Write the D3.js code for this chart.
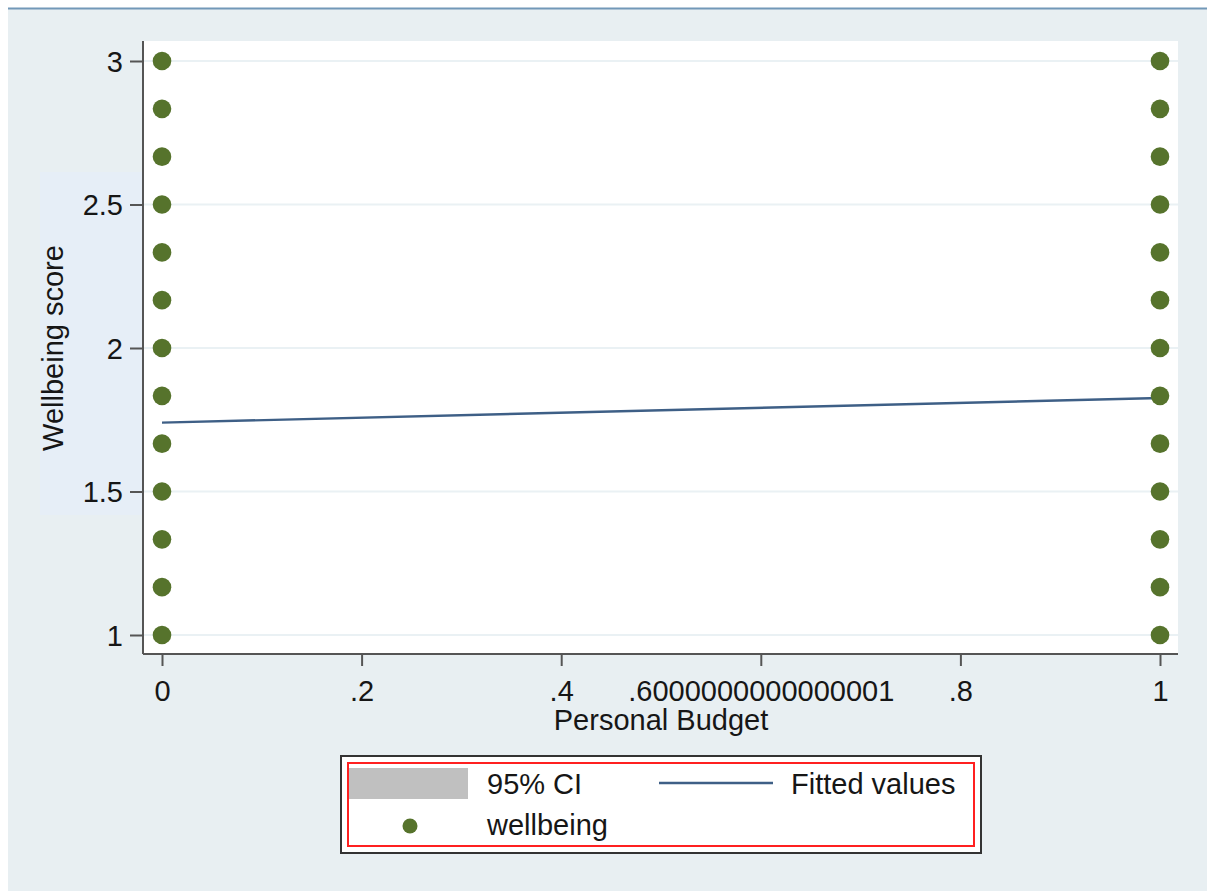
<!DOCTYPE html>
<html><head><meta charset="utf-8">
<script src="https://cdn.jsdelivr.net/npm/d3@7"></script>
<style>body{margin:0;background:#fff;}svg{display:block;font-family:Arial,"Liberation Sans",sans-serif;}</style>
</head><body><svg id="c" width="1207" height="893"></svg>
<script>
const groupX = [0, 1];
const wellbeingLevels = [1, 1.1667, 1.3333, 1.5, 1.6667, 1.8333, 2, 2.1667, 2.3333, 2.5, 2.6667, 2.8333, 3];
const fittedX = [0, 1];
const fittedY = [1.74, 1.826];
const yTicks = [1, 1.5, 2, 2.5, 3];
const xTicks = [0, 0.2, 0.4, 0.6000000000000001, 0.8, 1];
const xTickLabels = ["0", ".2", ".4", ".6000000000000001", ".8", "1"];
const yTickLabels = ["1", "1.5", "2", "2.5", "3"];

const FONT = "Arial, 'Liberation Sans', sans-serif";
const TXT = "#161616";
const svg = d3.select("#c");
svg.append("rect").attr("x", 8).attr("y", 8).attr("width", 1199).attr("height", 883).attr("fill", "#e8eff2");
svg.append("line").attr("x1", 8).attr("x2", 1207).attr("y1", 8.5).attr("y2", 8.5).attr("stroke", "#7298b8").attr("stroke-width", 2);
// faint backdrop behind y title
svg.append("rect").attr("x", 40).attr("y", 172).attr("width", 102).attr("height", 343).attr("fill", "#e6eef7");

const x = d3.scaleLinear().domain([0, 1]).range([162, 1160]);
const y = d3.scaleLinear().domain([1, 3]).range([635, 61]);

// plot region
svg.append("rect").attr("x", 143).attr("y", 41).attr("width", 1035).attr("height", 613).attr("fill", "#fff");

// gridlines
svg.append("g").selectAll("line").data(yTicks).join("line")
  .attr("x1", 143).attr("x2", 1178).attr("y1", d => y(d)).attr("y2", d => y(d))
  .attr("stroke", "#eaf1f4").attr("stroke-width", 2);

// fitted line
svg.append("path").datum(fittedX.map((d, i) => [d, fittedY[i]]))
  .attr("d", d3.line().x(d => x(d[0])).y(d => y(d[1])))
  .attr("fill", "none").attr("stroke", "#3e5f86").attr("stroke-width", 2.4);

// points
const pts = [];
groupX.forEach(g => wellbeingLevels.forEach(v => pts.push([g, v])));
svg.append("g").selectAll("circle").data(pts).join("circle")
  .attr("cx", d => x(d[0])).attr("cy", d => y(d[1])).attr("r", 9.3).attr("fill", "#56732c");

// axes
const yAxis = d3.axisLeft(y).tickValues(yTicks).tickSize(13).tickPadding(7).tickFormat((d, i) => yTickLabels[i]);
const gy = svg.append("g").attr("transform", "translate(143,0)").call(yAxis);
gy.attr("font-family", FONT).attr("font-size", 29);
gy.select(".domain").attr("d", "M0,41V654").attr("stroke", "#555").attr("stroke-width", 2);
gy.selectAll(".tick line").attr("stroke", "#555").attr("stroke-width", 2);
gy.selectAll(".tick text").attr("fill", TXT).attr("dy", "0.35em");

const xAxis = d3.axisBottom(x).tickValues(xTicks).tickSize(12).tickPadding(14).tickFormat((d, i) => xTickLabels[i]);
const gx = svg.append("g").attr("transform", "translate(0,654)").call(xAxis);
gx.attr("font-family", FONT).attr("font-size", 29);
gx.select(".domain").attr("d", "M143,0H1178").attr("stroke", "#555").attr("stroke-width", 2);
gx.selectAll(".tick line").attr("stroke", "#555").attr("stroke-width", 2);
gx.selectAll(".tick text").attr("fill", TXT).attr("dy", "0.71em");

// axis titles
svg.append("text").attr("x", 661).attr("y", 730).attr("text-anchor", "middle").attr("font-size", 29).attr("fill", TXT).text("Personal Budget");
svg.append("text").attr("transform", "translate(63,348) rotate(-90)").attr("text-anchor", "middle").attr("font-size", 29).attr("fill", TXT).text("Wellbeing score");

// legend
svg.append("rect").attr("x", 341).attr("y", 756).attr("width", 640).attr("height", 97).attr("fill", "#fff").attr("stroke", "#333").attr("stroke-width", 2);
svg.append("rect").attr("x", 348).attr("y", 763).attr("width", 626).attr("height", 83).attr("fill", "#fff").attr("stroke", "#ff2020").attr("stroke-width", 2);
svg.append("rect").attr("x", 349).attr("y", 768).attr("width", 119).attr("height", 31).attr("fill", "#c0c0c0");
svg.append("line").attr("x1", 659).attr("x2", 773).attr("y1", 783).attr("y2", 783).attr("stroke", "#3e5f86").attr("stroke-width", 2.5);
svg.append("circle").attr("cx", 410).attr("cy", 826).attr("r", 7.5).attr("fill", "#56732c");
const lt = [["95% CI", 487, 794], ["Fitted values", 791, 794], ["wellbeing", 487, 835]];
svg.append("g").selectAll("text").data(lt).join("text")
  .attr("x", d => d[1]).attr("y", d => d[2]).attr("font-size", 29).attr("fill", TXT).text(d => d[0]);
</script></body></html>
